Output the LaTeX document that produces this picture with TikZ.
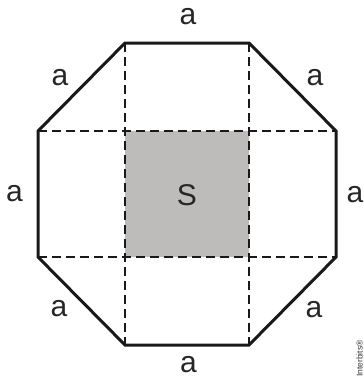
\documentclass[tikz,border=0pt]{standalone}
\usepackage{fontspec}
\setmainfont{Liberation Sans}
\definecolor{sqgray}{RGB}{189,188,186}
\begin{document}
\begin{tikzpicture}[x=1pt,y=-1pt,
  edge/.style={line width=3pt,line join=miter,black!90},
  guide/.style={line width=1.5pt,dash pattern=on 9pt off 5pt,black!90},
  lbl/.style={font=\fontsize{30}{32}\selectfont,inner sep=0pt,text=black!85}]
\useasboundingbox (0,0) rectangle (364,378);
\coordinate (A) at (125,43);
\coordinate (B) at (249,43);
\coordinate (C) at (336,131);
\coordinate (D) at (336,257);
\coordinate (E) at (249,345);
\coordinate (F) at (125,345);
\coordinate (G) at (38,257);
\coordinate (H) at (38,131);
\coordinate (P) at (125,131);
\coordinate (Q) at (249,257);
\fill[sqgray] (P) rectangle (Q);
\draw[guide] (A) -- (F);
\draw[guide] (B) -- (E);
\draw[guide] (H) -- (C);
\draw[guide] (G) -- (D);
\draw[edge] (A) -- (B) -- (C) -- (D) -- (E) -- (F) -- (G) -- (H) -- cycle;
\node[lbl] (s) at (187,195) {S};
\node[lbl] (a1) at (188,17) {a};
\node[lbl] (a2) at (60,78) {a};
\node[lbl] (a3) at (315,78) {a};
\node[lbl] (a4) at (14.5,194) {a};
\node[lbl] (a5) at (355,195) {a};
\node[lbl] (a6) at (59,309) {a};
\node[lbl] (a7) at (314,310) {a};
\node[lbl] (a8) at (188.5,365) {a};
\node[font=\fontsize{8.5}{9}\selectfont,inner sep=0pt,rotate=90,anchor=south west,text=black!80] (wm) at (363,377) {Interbits®};
\end{tikzpicture}
\end{document}
